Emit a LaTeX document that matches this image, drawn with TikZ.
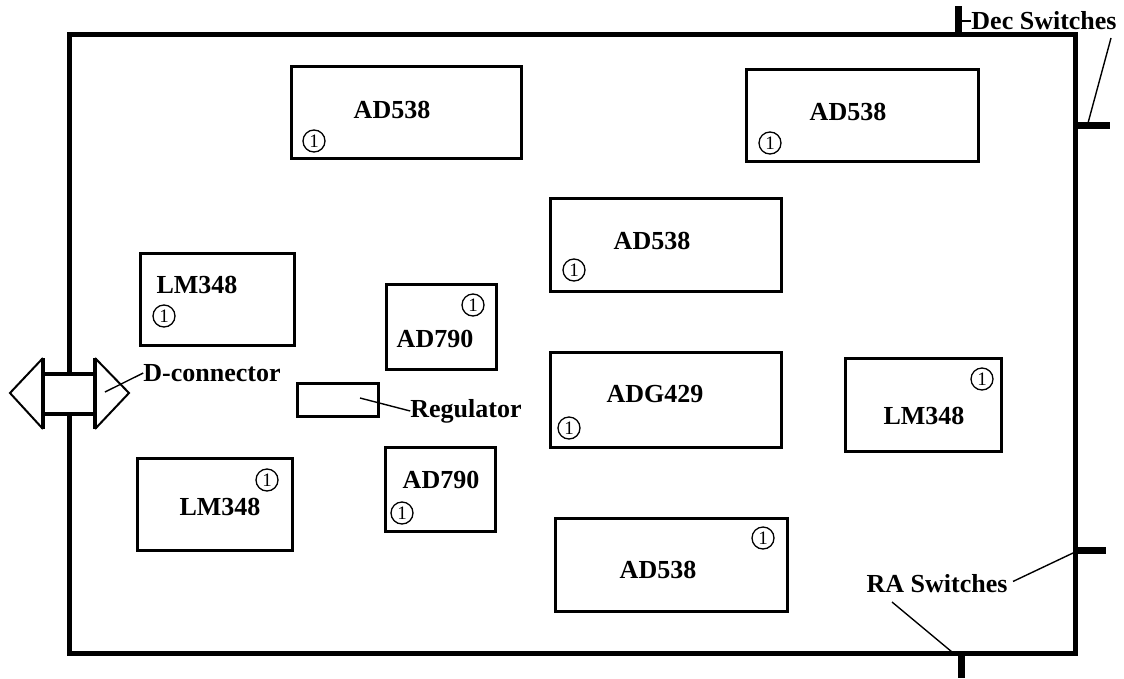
\documentclass[tikz,border=0pt]{standalone}
\usepackage{fontspec}
\setmainfont{Liberation Serif}
\usetikzlibrary{positioning}

\begin{document}
\begin{tikzpicture}[
            x=1pt, y=-1pt,
            board/.style={draw, line width=5pt, minimum width=1006pt, minimum height=619pt, inner sep=0pt},
            chip/.style={draw, line width=3pt, inner sep=0pt},
            chiplabel/.style={inner sep=0pt, font=\fontsize{26}{28}\selectfont\bfseries},
            pinone/.style={draw, circle, line width=1.3pt, minimum size=22pt, inner sep=0pt, font=\fontsize{19}{20}\selectfont},
            tick/.style={line width=7pt},
            lead/.style={line width=1.4pt},
            conbody/.style={draw, fill=white, line width=4pt, minimum width=52pt, minimum height=40pt, inner sep=0pt},
            conedge/.style={line width=4pt},
            conhead/.style={line width=2pt}
        ]
            \useasboundingbox (0,0) rectangle (1124,678);

            \node[board] (board) at (572,343.5) {};

            % chips
            \node[chip, minimum width=230pt, minimum height=92pt] (adtl) at (406,112) {};
            \node[chip, minimum width=232pt, minimum height=92pt] (adtr) at (862,115) {};
            \node[chip, minimum width=231pt, minimum height=93pt] (admid) at (665.5,244.5) {};
            \node[chip, minimum width=231pt, minimum height=95pt] (adg) at (665.5,399.5) {};
            \node[chip, minimum width=232pt, minimum height=93pt] (adbot) at (671,564.5) {};
            \node[chip, minimum width=154pt, minimum height=92pt] (lmtop) at (217,299) {};
            \node[chip, minimum width=155pt, minimum height=92pt] (lmbot) at (214.5,504) {};
            \node[chip, minimum width=156pt, minimum height=93pt] (lmright) at (923,404.5) {};
            \node[chip, minimum width=110pt, minimum height=85pt] (dactop) at (441,326.5) {};
            \node[chip, minimum width=110pt, minimum height=84pt] (dacbot) at (440,489) {};
            \node[chip, minimum width=81pt, minimum height=33pt] (reg) at (337.5,399.5) {};

            % chip names
            \node[chiplabel] (adtltext) at (392,110) {AD538};
            \node[chiplabel] (adtrtext) at (848,112) {AD538};
            \node[chiplabel] (admidtext) at (652,241) {AD538};
            \node[chiplabel] (adgtext) at (655,394) {ADG429};
            \node[chiplabel] (adbottext) at (658,570) {AD538};
            \node[chiplabel] (lmtoptext) at (197,285) {LM348};
            \node[chiplabel] (lmbottext) at (220,507) {LM348};
            \node[chiplabel] (lmrighttext) at (924,416) {LM348};
            \node[chiplabel] (dactoptext) at (435,339) {AD790};
            \node[chiplabel] (dacbottext) at (441,480) {AD790};

            % pin 1 marks
            \node[pinone] (adtlone) at (314,141) {1};
            \node[pinone] (adtrone) at (770,143) {1};
            \node[pinone] (admidone) at (574,270) {1};
            \node[pinone] (adgone) at (569,428) {1};
            \node[pinone] (adbotone) at (763,538) {1};
            \node[pinone] (lmtopone) at (164,316) {1};
            \node[pinone] (lmbotone) at (267,480) {1};
            \node[pinone] (lmrightone) at (982,379) {1};
            \node[pinone] (dactopone) at (473,305) {1};
            \node[pinone] (dacbotone) at (402,513) {1};

            % D-connector
            \node[conbody] (conbody) at (69,394) {};
            \coordinate (lefttop) at (43,358);
            \coordinate (leftbot) at (43,429);
            \coordinate (lefttip) at (10,393);
            \coordinate (righttop) at (95,358);
            \coordinate (rightbot) at (95,429);
            \coordinate (righttip) at (129,393);
            \draw[conhead] (lefttop) -- (lefttip) -- (leftbot);
            \draw[conhead] (righttop) -- (righttip) -- (rightbot);
            \draw[conedge] (lefttop) -- (leftbot);
            \draw[conedge] (righttop) -- (rightbot);

            % switches
            \coordinate (decin) at (958,33);
            \coordinate (decout) at (958,6);
            \coordinate (dectwoin) at (1076,125);
            \coordinate (dectwoout) at (1110,125);
            \coordinate (rain) at (1076,550);
            \coordinate (raout) at (1106,550);
            \coordinate (ratwoin) at (961,654);
            \coordinate (ratwoout) at (961,678);
            \draw[tick] (decin) -- (decout);
            \draw[tick] (dectwoin) -- (dectwoout);
            \draw[tick] (rain) -- (raout);
            \draw[tick] (ratwoin) -- (ratwoout);

            % labels
            \node[chiplabel] (dconn) at (212,373) {D-connector};
            \node[chiplabel] (regtext) at (466,411) {Regulator};
            \node[chiplabel] (dectext) at (1044,21) {Dec Switches};
            \node[chiplabel] (ratext) at (937,584) {RA Switches};

            \coordinate (dconnend) at (105,392);
            \coordinate (regend) at (360,398);
            \coordinate (dectick) at (958,21);
            \coordinate (dectwotick) at (1088,123);
            \coordinate (ratick) at (1073,553);
            \coordinate (ratwotick) at (952,652);
            \coordinate (ratwostart) at (892,602);
            \coordinate (dectwostart) at (1111,38);
            \draw[lead] (dconn.west) -- (dconnend);
            \draw[lead] (regtext.west) -- (regend);
            \draw[lead] (dectext.west) -- (dectick);
            \draw[lead] (dectwostart) -- (dectwotick);
            \draw[lead, shorten <=6pt] (ratext.east) -- (ratick);
            \draw[lead] (ratwostart) -- (ratwotick);
        \end{tikzpicture}
\end{document}
